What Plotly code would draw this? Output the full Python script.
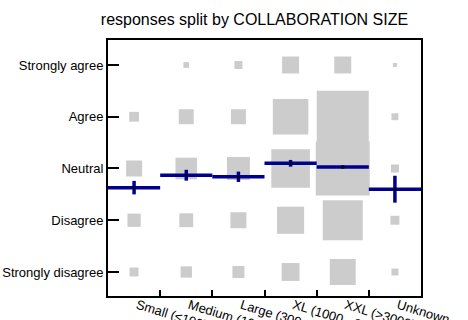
import plotly.graph_objects as go
import math

categories = ["Small (≤100)", "Medium (100-300)", "Large (300-1000)",
              "XL (1000 - 3000)", "XXL (>3000)", "Unknown"]
levels = ["Strongly disagree", "Disagree", "Neutral", "Agree", "Strongly agree"]
level_values = [1, 2, 3, 4, 5]

# response counts per category, ordered Strongly disagree .. Strongly agree
counts_small = [5, 11, 16, 6, 0]
counts_medium = [8, 12, 29, 14, 2]
counts_large = [9, 16, 33, 14, 4]
counts_xl = [20, 46, 93, 79, 18]
counts_xxl = [42, 100, 182, 169, 18]
counts_unknown = [3, 5, 4, 3, 1]
counts = [counts_small, counts_medium, counts_large, counts_xl, counts_xxl, counts_unknown]

# mean response and its error per category
means = [2.63, 2.87, 2.84, 3.10, 3.03, 2.60]
errors = [0.13, 0.105, 0.10, 0.065, 0.03, 0.26]

fig = go.Figure()

# gray squares (area proportional to count)
xs, ys, sizes = [], [], []
for ci, cat in enumerate(categories):
    for li, lv in enumerate(level_values):
        c = counts[ci][li]
        if c > 0:
            xs.append(ci)
            ys.append(lv)
            sizes.append(4.0 * math.sqrt(c))
fig.add_trace(go.Scatter(
    x=xs, y=ys, mode="markers",
    marker=dict(symbol="square", size=sizes, color="#cccccc", opacity=1,
                line=dict(width=0)),
    hoverinfo="skip", showlegend=False))

# mean lines spanning each category
lx, ly = [], []
for ci, m in enumerate(means):
    lx += [ci - 0.5, ci + 0.5, None]
    ly += [m, m, None]
fig.add_trace(go.Scatter(x=lx, y=ly, mode="lines",
                         line=dict(color="#00008f", width=3.5),
                         hoverinfo="skip", showlegend=False))

# error bars + mean dot
fig.add_trace(go.Scatter(
    x=list(range(len(categories))), y=means, mode="markers",
    marker=dict(color="black", size=3),
    error_y=dict(type="data", array=errors, visible=True,
                 color="#00008f", thickness=3.5, width=0),
    hoverinfo="skip", showlegend=False))

fig.update_layout(
    width=468, height=320,
    margin=dict(l=108, r=47, t=40, b=24),
    paper_bgcolor="white", plot_bgcolor="white",
    font=dict(family="Liberation Sans, Arial, sans-serif", size=13, color="black"),
    title=dict(text="responses split by COLLABORATION SIZE",
               x=254.5 / 468, xanchor="center", y=1 - 19 / 320, yanchor="middle",
               font=dict(size=16, color="black")),
    showlegend=False,
)
fig.update_xaxes(
    range=[-0.5, 5.5], tickmode="array",
    tickvals=list(range(len(categories))), ticktext=categories,
    showgrid=False, zeroline=False, automargin=False,
    showline=True, mirror=True, linecolor="black", linewidth=2,
    ticks="", tickangle=17, ticklabelstandoff=-5, ticklabelshift=3,
    minor=dict(tickmode="array", tickvals=[0.5, 1.5, 2.5, 3.5, 4.5],
               ticks="inside", ticklen=6, tickwidth=2, tickcolor="black",
               showgrid=False),
)
fig.update_yaxes(
    range=[0.536, 5.483], tickmode="array",
    tickvals=level_values, ticktext=levels,
    showgrid=False, zeroline=False, automargin=False,
    showline=True, mirror=True, linecolor="black", linewidth=2,
    ticks="inside", ticklen=11, tickwidth=2, tickcolor="black",
)

fig.write_html("out.html", config={"displayModeBar": False},
               post_script="document.body.style.margin='0';")
